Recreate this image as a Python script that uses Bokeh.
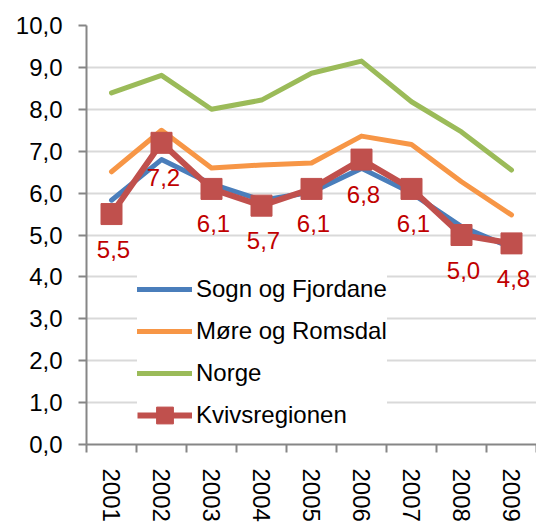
import math
from bokeh.plotting import figure
from bokeh.models import Range1d, FixedTicker, Legend, LegendItem, ColumnDataSource
from bokeh.core.properties import value
from bokeh.embed import file_html
from bokeh.resources import INLINE

years = ["2001", "2002", "2003", "2004", "2005", "2006", "2007", "2008", "2009"]
sogn = [5.83, 6.80, 6.22, 5.83, 6.02, 6.59, 6.00, 5.20, 4.70]
more = [6.51, 7.50, 6.60, 6.67, 6.72, 7.36, 7.16, 6.27, 5.48]
norge = [8.39, 8.81, 8.00, 8.22, 8.86, 9.15, 8.18, 7.46, 6.55]
kvivs = [5.5, 7.2, 6.1, 5.7, 6.1, 6.8, 6.1, 5.0, 4.8]
y_ticks = [0, 1, 2, 3, 4, 5, 6, 7, 8, 9, 10]

FONT = "Liberation Sans"
xs = [i + 0.5 for i in range(len(years))]
kv_labels = [f"{v:.1f}".replace(".", ",") for v in kvivs]

p = figure(width=536, height=525, output_backend="svg", toolbar_location=None,
           x_range=Range1d(0, 9), y_range=Range1d(0, 10),
           min_border_left=86, min_border_right=0, min_border_top=25, min_border_bottom=81)
p.outline_line_color = None
p.background_fill_color = "white"
p.border_fill_color = "white"

# grid
p.xgrid.grid_line_color = None
p.ygrid.ticker = FixedTicker(ticks=y_ticks)
p.ygrid.grid_line_color = "#d9d9d9"
p.ygrid.grid_line_width = 2

# y axis
p.yaxis.ticker = FixedTicker(ticks=y_ticks)
p.yaxis.major_label_overrides = {t: f"{t},0" for t in y_ticks}
p.yaxis.major_label_text_font = FONT
p.yaxis.major_label_text_font_size = "24px"
p.yaxis.major_label_text_color = "black"
p.yaxis.axis_line_color = "#868686"
p.yaxis.axis_line_width = 2
p.yaxis.major_tick_line_color = "#868686"
p.yaxis.major_tick_line_width = 2
p.yaxis.major_tick_out = 8
p.yaxis.major_tick_in = 0
p.yaxis.minor_tick_line_color = None
p.yaxis.major_label_standoff = 16

# x axis
p.xaxis.ticker = FixedTicker(ticks=xs, minor_ticks=list(range(0, 10)))
p.xaxis.major_label_overrides = {x: y for x, y in zip(xs, years)}
p.xaxis.major_label_orientation = -math.pi / 2
p.xaxis.major_label_text_font = FONT
p.xaxis.major_label_text_font_size = "24px"
p.xaxis.major_label_text_color = "black"
p.xaxis.axis_line_color = "#868686"
p.xaxis.axis_line_width = 2
p.xaxis.major_tick_line_color = None
p.xaxis.major_tick_out = 8
p.xaxis.major_tick_in = 0
p.xaxis.minor_tick_line_color = "#868686"
p.xaxis.minor_tick_line_width = 2
p.xaxis.minor_tick_out = 8
p.xaxis.minor_tick_in = 0
p.xaxis.major_label_standoff = 16
p.xaxis.axis_label_standoff = 0

r_sogn = p.line(xs, sogn, line_color="#4a7ebb", line_width=5, line_cap="round", line_join="round")
r_more = p.line(xs, more, line_color="#f79646", line_width=5, line_cap="round", line_join="round")
r_norge = p.line(xs, norge, line_color="#9bbb59", line_width=5, line_cap="round", line_join="round")
r_kv = p.line(xs, kvivs, line_color="#c0504d", line_width=6, line_join="round")
# smaller square used for the legend (hidden under the data squares)
r_kvleg = p.scatter(xs, kvivs, marker="square", size=15, fill_color="#c0504d", line_color="#c0504d")
r_kvm = p.scatter(xs, kvivs, marker="square", size=21, fill_color="#c0504d", line_color="#c0504d")

src = ColumnDataSource(dict(x=xs, y=kvivs, t=kv_labels))
p.text(x="x", y="y", text="t", source=src, y_offset=35, x_offset=2,
       text_align="center", text_baseline="middle",
       text_font=value(FONT), text_font_size="24px", text_color="#c00000")

legend = Legend(items=[
    LegendItem(label="Sogn og Fjordane", renderers=[r_sogn]),
    LegendItem(label="Møre og Romsdal", renderers=[r_more]),
    LegendItem(label="Norge", renderers=[r_norge]),
    LegendItem(label="Kvivsregionen", renderers=[r_kv, r_kvleg]),
], location=(51, 8))
legend.glyph_width = 55
legend.glyph_height = 42
legend.label_height = 42
legend.spacing = 0
legend.padding = 12
legend.margin = 0
legend.label_standoff = 4
legend.label_text_font = FONT
legend.label_text_font_size = "24px"
legend.label_text_color = "black"
legend.border_line_color = None
legend.background_fill_color = "white"
legend.background_fill_alpha = 1.0
p.add_layout(legend, "center")

open("out.html", "w").write(file_html(p, INLINE))
